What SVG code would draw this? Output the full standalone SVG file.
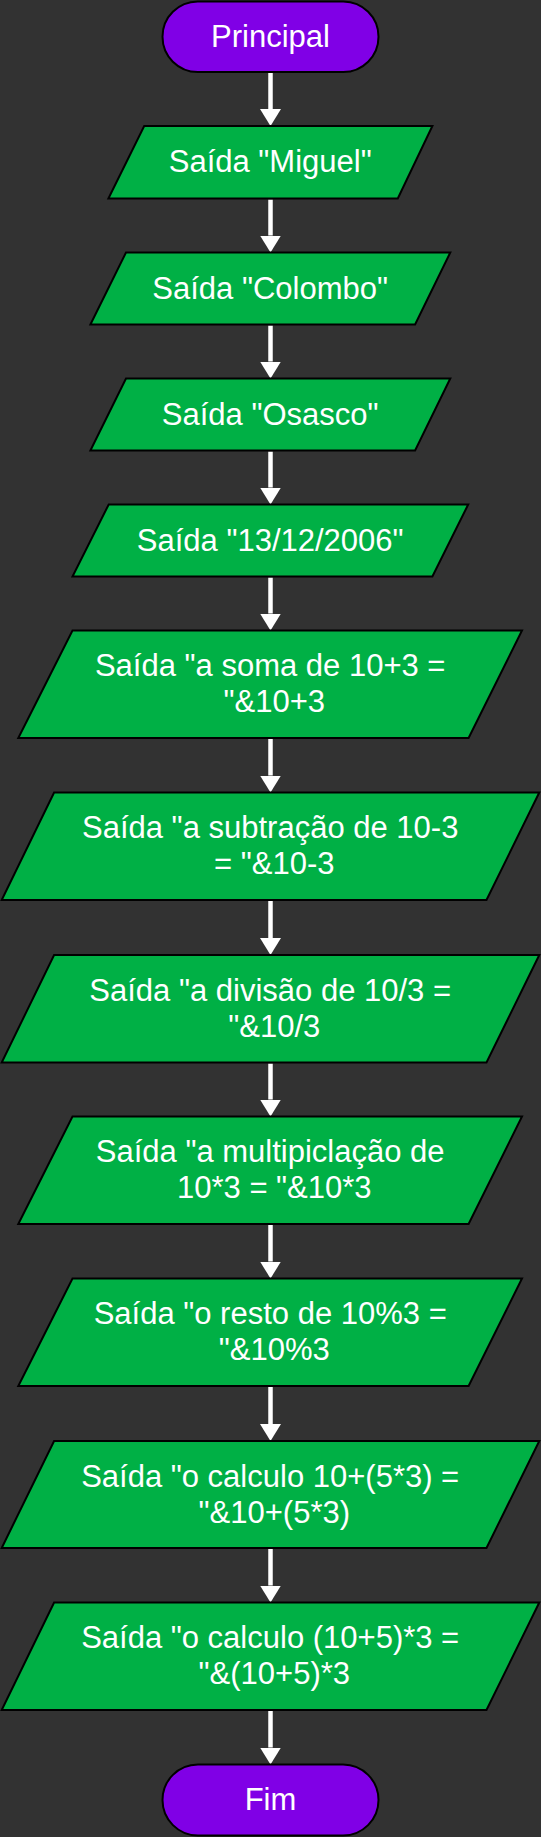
<svg xmlns="http://www.w3.org/2000/svg" width="541" height="1837" viewBox="0 0 541 1837">
<defs>
<style>
.term{fill:#8000E6;stroke:#000;stroke-width:2}
.io{fill:#00B045;stroke:#000;stroke-width:2}
.t{font-family:"Liberation Sans",Arial,sans-serif;font-size:31px;fill:#fff;text-anchor:middle}
.c{stroke:#fff;stroke-width:4.5;fill:none}
</style>
<marker id="ah" markerUnits="userSpaceOnUse" viewBox="0 0 17 21" refX="0" refY="10.5" markerWidth="17" markerHeight="21" orient="auto">
<path d="M0,0 L17,10.5 L0,21 Z" fill="#fff"/>
</marker>
</defs>
<rect width="541" height="1837" fill="#323232"/>
<g id="connectors">
<line class="c" x1="270.5" y1="73" x2="270.5" y2="109" marker-end="url(#ah)"/>
<line class="c" x1="270.5" y1="199.5" x2="270.5" y2="235.5" marker-end="url(#ah)"/>
<line class="c" x1="270.5" y1="325.5" x2="270.5" y2="361.5" marker-end="url(#ah)"/>
<line class="c" x1="270.5" y1="451.5" x2="270.5" y2="487.5" marker-end="url(#ah)"/>
<line class="c" x1="270.5" y1="577.5" x2="270.5" y2="613.5" marker-end="url(#ah)"/>
<line class="c" x1="270.5" y1="739" x2="270.5" y2="775.5" marker-end="url(#ah)"/>
<line class="c" x1="270.5" y1="901" x2="270.5" y2="938" marker-end="url(#ah)"/>
<line class="c" x1="270.5" y1="1063.5" x2="270.5" y2="1099.5" marker-end="url(#ah)"/>
<line class="c" x1="270.5" y1="1225" x2="270.5" y2="1261.5" marker-end="url(#ah)"/>
<line class="c" x1="270.5" y1="1387" x2="270.5" y2="1424" marker-end="url(#ah)"/>
<line class="c" x1="270.5" y1="1549" x2="270.5" y2="1585.5" marker-end="url(#ah)"/>
<line class="c" x1="270.5" y1="1711" x2="270.5" y2="1747.5" marker-end="url(#ah)"/>
</g>
<g id="n-principal">
<rect class="term" x="162.5" y="1.5" width="216" height="70.5" rx="35.25"/>
<text class="t" x="270.5" y="47">Principal</text>
</g>
<g id="n-miguel">
<polygon class="io" points="144.2,126 432.4,126 397.8,198.5 108.4,198.5"/>
<text class="t" x="270.2" y="172">Saída "Miguel"</text>
</g>
<g id="n-colombo">
<polygon class="io" points="126,252.5 450.3,252.5 415.1,324.5 90.4,324.5"/>
<text class="t" x="270.2" y="298.5">Saída "Colombo"</text>
</g>
<g id="n-osasco">
<polygon class="io" points="126,378.5 450.3,378.5 415.1,450.5 90.4,450.5"/>
<text class="t" x="270.2" y="424.5">Saída "Osasco"</text>
</g>
<g id="n-data">
<polygon class="io" points="108.7,504.5 468.2,504.5 432.4,576.5 72.5,576.5"/>
<text class="t" x="270.2" y="550.5">Saída "13/12/2006"</text>
</g>
<g id="n-soma">
<polygon class="io" points="72.5,630.5 522,630.5 468.6,738 18.3,738"/>
<text class="t" x="270.2" y="676">Saída "a soma de 10+3 =</text>
<text class="t" x="274.3" y="712">"&amp;10+3</text>
</g>
<g id="n-subtracao">
<polygon class="io" points="54.1,792.5 539.3,792.5 486.5,900 1.7,900"/>
<text class="t" x="270.2" y="838">Saída "a subtração de 10-3</text>
<text class="t" x="274.3" y="874">= "&amp;10-3</text>
</g>
<g id="n-divisao">
<polygon class="io" points="54.1,955 539.3,955 486.5,1062.5 1.7,1062.5"/>
<text class="t" x="270.2" y="1000.5">Saída "a divisão de 10/3 =</text>
<text class="t" x="274.3" y="1036.5">"&amp;10/3</text>
</g>
<g id="n-multiplicacao">
<polygon class="io" points="72.5,1116.5 522,1116.5 468.6,1224 18.3,1224"/>
<text class="t" x="270.2" y="1162">Saída "a multipiclação de</text>
<text class="t" x="274.3" y="1198">10*3 = "&amp;10*3</text>
</g>
<g id="n-resto">
<polygon class="io" points="72.5,1278.5 522,1278.5 468.6,1386 18.3,1386"/>
<text class="t" x="270.2" y="1324">Saída "o resto de 10%3 =</text>
<text class="t" x="274.3" y="1360">"&amp;10%3</text>
</g>
<g id="n-calc1">
<polygon class="io" points="54.1,1441 539.3,1441 486.5,1548 1.7,1548"/>
<text class="t" x="270.2" y="1486.5">Saída "o calculo 10+(5*3) =</text>
<text class="t" x="274.3" y="1522.5">"&amp;10+(5*3)</text>
</g>
<g id="n-calc2">
<polygon class="io" points="54.1,1602.5 539.3,1602.5 486.5,1710 1.7,1710"/>
<text class="t" x="270.2" y="1648">Saída "o calculo (10+5)*3 =</text>
<text class="t" x="274.3" y="1684">"&amp;(10+5)*3</text>
</g>
<g id="n-fim">
<rect class="term" x="162.5" y="1764.5" width="216" height="71" rx="35.5"/>
<text class="t" x="270.5" y="1810">Fim</text>
</g>
</svg>
